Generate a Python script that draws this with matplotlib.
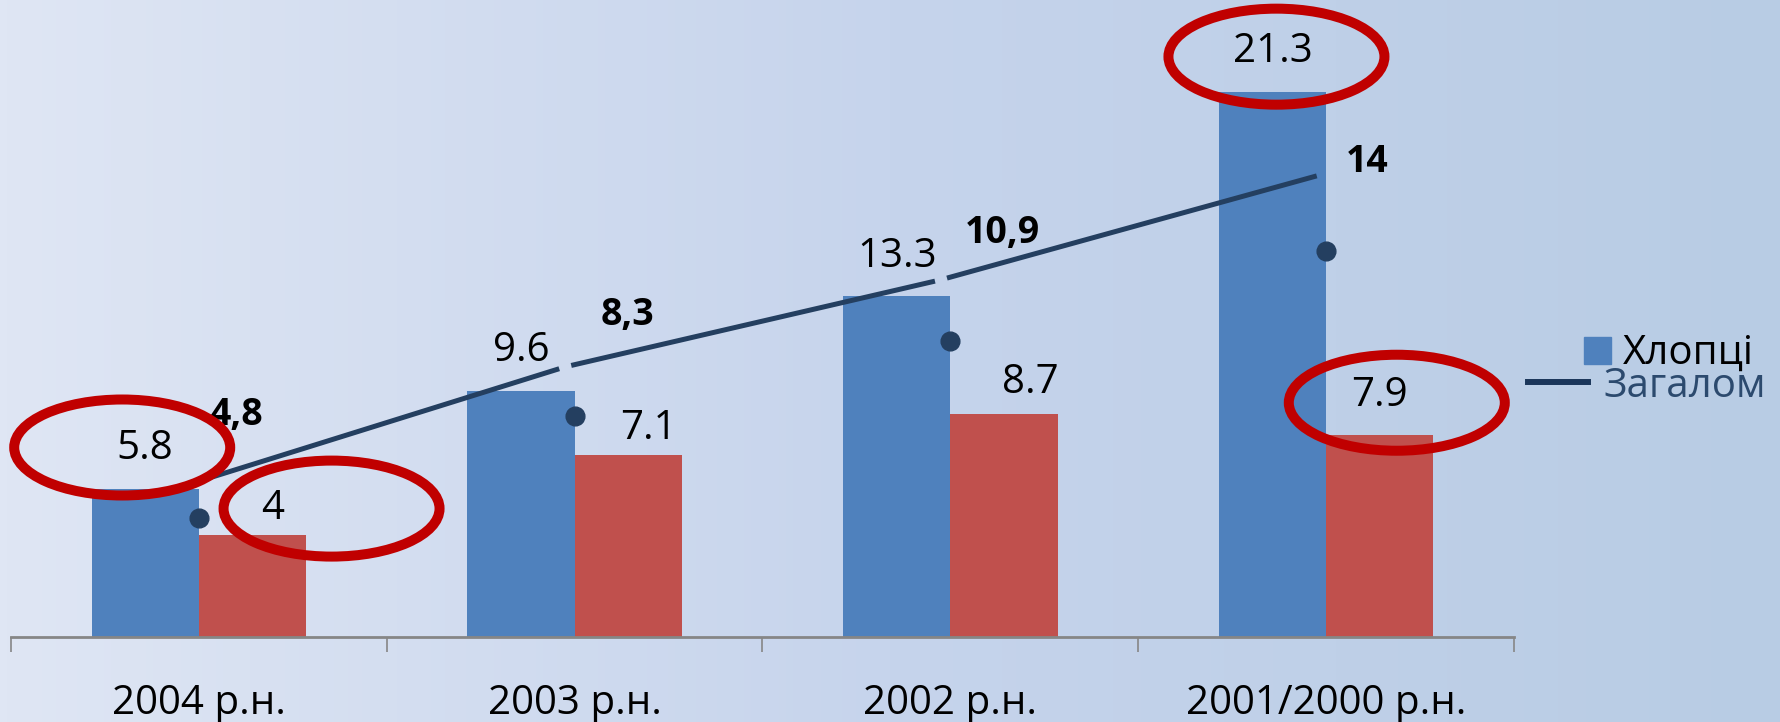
import numpy as np
import matplotlib
matplotlib.use('Agg')
import matplotlib.pyplot as plt
from matplotlib.patches import Ellipse, Rectangle
from matplotlib.lines import Line2D
from matplotlib.transforms import IdentityTransform
from matplotlib.colors import LinearSegmentedColormap

plt.rcParams['font.family'] = ['Open Sans', 'DejaVu Sans']

# data
categories = ['2004 р.н.', '2003 р.н.', '2002 р.н.', '2001/2000 р.н.']
boys = [5.8, 9.6, 13.3, 21.3]
girls = [4, 7.1, 8.7, 7.9]
total = [4.8, 8.3, 10.9, 14]
total_labels = ['4,8', '8,3', '10,9', '14']

BLUE = '#4F81BD'
RED = '#C0504D'
NAVY = '#243F60'
RING = '#C00000'

W, H = 1781, 722
fig = plt.figure(figsize=(W / 100, H / 100), dpi=100)

# gradient background
bg = fig.add_axes([0, 0, 1, 1], zorder=-10)
cmap = LinearSegmentedColormap.from_list('bg', ['#DFE6F4', '#C6D4EC', '#B8CCE4'])
bg.imshow(np.linspace(0, 1, 256)[None, :], aspect='auto', cmap=cmap, extent=[0, 1, 0, 1])
bg.axis('off')

ax = fig.add_axes([11 / W, 1 - 637 / H, (1514 - 11) / W, 637 / H])
ax.patch.set_alpha(0)
x = np.arange(len(categories))
bw = 0.2857
ax.bar(x - bw / 2, boys, bw, color=BLUE, zorder=2)
ax.bar(x + bw / 2, girls, bw, color=RED, zorder=2)
ax.set_xlim(-0.5, 3.5)
ax.set_ylim(0, 24.88)
for s in ['left', 'right', 'top']:
    ax.spines[s].set_visible(False)
ax.spines['bottom'].set_color('#868686')
ax.spines['bottom'].set_linewidth(2)
ax.set_yticks([])
ax.set_xticks(x, categories, fontsize=29)
ax.tick_params(axis='x', which='major', length=0, pad=33.5)
ax.set_xticks(np.arange(-0.5, 4, 1), minor=True)
ax.tick_params(axis='x', which='minor', length=11, width=1.2, color='#868686')

# bar value labels
boy_off = [(0, 40)] * 4
girl_off = [(20, 26), (20, 26), (26, 32), (0, 39)]
for i in range(len(x)):
    ax.annotate(f'{boys[i]}', (x[i] - bw / 2, boys[i]), xytext=boy_off[i],
                textcoords='offset pixels', ha='center', va='center', fontsize=29)
    ax.annotate(f'{girls[i]}', (x[i] + bw / 2, girls[i]), xytext=girl_off[i],
                textcoords='offset pixels', ha='center', va='center', fontsize=29)

# total markers (own scale)
ax2 = ax.twinx()
ax2.set_ylim(0.71, 22.62)
ax2.plot(x, total, 'o', ms=13.5, color=NAVY, zorder=3)
tot_off = [(37, 103), (53, 101), (52, 108), (41, 89)]
for i in range(len(x)):
    ax2.annotate(total_labels[i], (x[i], total[i]), xytext=tot_off[i],
                 textcoords='offset pixels', ha='center', va='center',
                 fontsize=27, fontweight='bold')
ax2.axis('off')

# total line (own scale, broken at the inner points)
ax3 = ax.twinx()
ax3.set_ylim(0.236, 19.25)
xs = x - 0.025
gap = 0.016
for i in range(len(x) - 1):
    x0, y0, x1, y1 = xs[i], total[i], xs[i + 1], total[i + 1]
    a = gap if i > 0 else 0
    b = 1 - gap if i < len(x) - 2 else 1
    ax3.plot([x0 + (x1 - x0) * a, x0 + (x1 - x0) * b],
             [y0 + (y1 - y0) * a, y0 + (y1 - y0) * b],
             color=NAVY, lw=3.6, solid_capstyle='butt')
ax3.axis('off')

# red rings around some labels
rings = [
    (boys, 3, -bw / 2, boy_off[3], (4, -5)),
    (boys, 0, -bw / 2, boy_off[0], (-23, 1)),
    (girls, 0, bw / 2, girl_off[0], (59, 0)),
    (girls, 3, bw / 2, girl_off[3], (17, -7)),
]
for vals, i, shift, loff, eoff in rings:
    px, py = ax.transData.transform((x[i] + shift, vals[i]))
    e = Ellipse((px + loff[0] + eoff[0], py + loff[1] + eoff[1]), 216, 96,
                fill=False, edgecolor=RING, lw=7.2, transform=IdentityTransform(), zorder=20)
    fig.add_artist(e)

# legend drawn by hand
fig.add_artist(Rectangle((1584 / W, 1 - 364 / H), 27 / W, 27 / H, color=BLUE,
                         transform=fig.transFigure))
fig.text(1623 / W, 1 - 364 / H, 'Хлопці', fontsize=29, ha='left', va='baseline')
fig.add_artist(Line2D([1528 / W, 1588 / W], [1 - 382 / H] * 2, color='#1B365A', lw=4.3,
                      transform=fig.transFigure))
fig.text(1603 / W, 1 - 397 / H, 'Загалом', fontsize=29, ha='left', va='baseline',
         color='#2C4A6E')

fig.savefig('out.png', dpi=100)
